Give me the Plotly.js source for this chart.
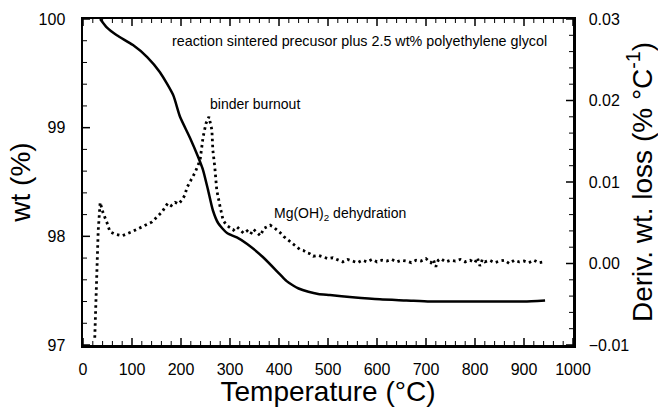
<!DOCTYPE html>
<html>
<head>
<meta charset="utf-8">
<script src="https://cdn.plot.ly/plotly-3.0.1.min.js"></script>
<style>
html,body{margin:0;padding:0;background:#fff;}
#chart{width:658px;height:407px;}
</style>
</head>
<body>
<div id="chart"></div>
<script>
// TGA weight (%) vs temperature (solid line, left axis)
var tgaTemp = [35, 49, 69, 102, 131, 157, 184, 198, 218, 235, 245, 255, 265, 276, 294, 314, 335, 367, 402, 415, 428, 440, 460, 480, 504, 550, 606, 660, 708, 760, 851, 900, 943];
var tgaWt   = [100.0, 99.92, 99.85, 99.76, 99.65, 99.51, 99.30, 99.10, 98.91, 98.73, 98.61, 98.43, 98.24, 98.12, 98.03, 97.99, 97.93, 97.81, 97.65, 97.59, 97.55, 97.52, 97.49, 97.47, 97.46, 97.44, 97.42, 97.41, 97.40, 97.40, 97.40, 97.40, 97.41];

// Derivative weight loss (% / °C) vs temperature (dotted line, right axis)
var dtgTemp = [24, 26, 28, 31, 35, 41, 49, 55, 65, 80, 100, 120, 141, 161, 173, 180, 188, 195, 202, 208, 212, 220, 229, 239, 245, 251, 257, 263, 265, 269, 273, 280, 286, 293, 300, 307, 314,
  320, 328, 335, 342, 348, 355, 362, 369, 376, 382, 388, 395, 402, 410, 416, 422, 430, 436, 443, 450, 457, 463, 470,
  480, 490, 500, 510, 520, 530, 540, 550, 560, 570, 580, 590, 600, 610, 620, 630, 640, 650, 660, 670, 680, 690, 700, 710, 715, 720, 725, 730, 740, 750, 760, 770, 780, 790, 800, 805, 810, 815, 820, 830, 840, 850, 860, 870, 880, 890, 900, 910, 920, 930, 940];
var dtgVal  = [-0.0091, -0.006, -0.002, 0.004, 0.0075, 0.0062, 0.0050, 0.0039, 0.0036, 0.0034, 0.0039, 0.0045, 0.0051, 0.0063, 0.0074, 0.0071, 0.0075, 0.0073, 0.0078, 0.0084, 0.0093, 0.0102, 0.0112, 0.0127, 0.0155, 0.0172, 0.0180, 0.0164, 0.0139, 0.0118, 0.0090, 0.0069, 0.0053, 0.0047, 0.0044, 0.0041, 0.0045,
  0.0041, 0.0037, 0.0040, 0.0036, 0.0042, 0.0038, 0.0034, 0.0043, 0.0045, 0.0047, 0.0045, 0.0042, 0.0038, 0.0033, 0.0030, 0.0027, 0.0024, 0.0020, 0.0017, 0.0016, 0.0013, 0.0012, 0.0009,
  0.0010, 0.0008, 0.0006, 0.0007, 0.0004, 0.0002, 0.0005, 0.0003, 0.0001, 0.0004, 0.0002, 0.0005, 0.0002, 0.0004, 0.0003, 0.0005, 0.0002, 0.0004, 0.0003, 0.0001, 0.0004, 0.0003, 0.0006, 0.0001, 0.0005, -0.0004, 0.0004, 0.0006, 0.0002, 0.0004, 0.0003, 0.0005, 0.0002, 0.0004, 0.0001, 0.0007, -0.0003, 0.0005, 0.0002, 0.0004, 0.0001, 0.0003, 0.0004, 0.0000, 0.0004, 0.0002, 0.0003, 0.0001, 0.0004, 0.0001, 0.0002];

var xTitle = 'Temperature (°C)';
var yTitle = 'wt (%)';
var y2Title = 'Deriv. wt. loss (% °C<sup>-1</sup>)';
var noteTitle = 'reaction sintered precusor plus 2.5 wt% polyethylene glycol';
var noteBinder = 'binder burnout';
var noteMg = 'Mg(OH)<sub>2</sub> dehydration';

var FONT = 'Liberation Sans, Arial, Helvetica, sans-serif';

// axis ranges and tick steps
var xRange = [0, 1000], xMajor = 100, xMinor = 20;
var yRange = [97, 100], yMajor = 1, yMinor = 0.2;
var y2Range = [-0.01, 0.03], y2Major = 0.01, y2Minor = 0.002;

var W = 658, H = 407, M = {l: 83, r: 85, t: 19, b: 62};
var plotW = W - M.l - M.r, plotH = H - M.t - M.b;
var MAJ = 7, MIN = 4;

function tickVals(range, step) {
  var out = [], n = Math.round((range[1] - range[0]) / step);
  for (var i = 0; i <= n; i++) out.push(range[0] + i * step);
  return out;
}
function isMajor(v, range, major) {
  var r = (v - range[0]) / major;
  return Math.abs(r - Math.round(r)) < 1e-6;
}

// inward tick marks on all four sides, placed through the axes' own scales
var shapes = [];
tickVals(xRange, xMinor).forEach(function(v) {
  var len = isMajor(v, xRange, xMajor) ? MAJ : MIN, w = len === MAJ ? 1.5 : 1;
  shapes.push({type: 'line', xref: 'x', yref: 'paper', x0: v, x1: v, y0: 0, y1: len / plotH, line: {color: '#000', width: w}});
  shapes.push({type: 'line', xref: 'x', yref: 'paper', x0: v, x1: v, y0: 1, y1: 1 - len / plotH, line: {color: '#000', width: w}});
});
tickVals(yRange, yMinor).forEach(function(v) {
  var len = isMajor(v, yRange, yMajor) ? MAJ : MIN, w = len === MAJ ? 1.5 : 1;
  shapes.push({type: 'line', xref: 'paper', yref: 'y', x0: 0, x1: len / plotW, y0: v, y1: v, line: {color: '#000', width: w}});
});
tickVals(y2Range, y2Minor).forEach(function(v) {
  var len = isMajor(v, y2Range, y2Major) ? MAJ : MIN, w = len === MAJ ? 1.5 : 1;
  shapes.push({type: 'line', xref: 'paper', yref: 'y2', x0: 1, x1: 1 - len / plotW, y0: v, y1: v, line: {color: '#000', width: w}});
});

var traces = [
  {x: tgaTemp, y: tgaWt, type: 'scatter', mode: 'lines', yaxis: 'y',
   line: {color: '#000', width: 2.5, shape: 'spline', smoothing: 0.6}},
  {x: dtgTemp, y: dtgVal, type: 'scatter', mode: 'lines', yaxis: 'y2',
   line: {color: '#000', width: 2.8, dash: '2.5px,3.5px'}}
];

function axis(extra) {
  var a = {
    showgrid: false, zeroline: false, showline: true, linecolor: '#000', linewidth: 2.5,
    ticks: '', tickfont: {family: FONT, size: 16, color: '#000'}
  };
  return Object.assign(a, extra);
}

var layout = {
  width: W, height: H,
  margin: M,
  plot_bgcolor: 'rgba(0,0,0,0)',
  showlegend: false,
  xaxis: axis({
    range: xRange, dtick: xMajor, mirror: true, ticklabelstandoff: 8,
    title: {text: xTitle, font: {family: FONT, size: 28, color: '#000'}, standoff: 10}
  }),
  yaxis: axis({
    range: yRange, dtick: yMajor, ticklabelstandoff: 12,
    title: {text: yTitle, font: {family: FONT, size: 28, color: '#000'}, standoff: 0}
  }),
  yaxis2: axis({
    overlaying: 'y', side: 'right',
    range: y2Range, dtick: y2Major, tickformat: '.2f', ticklabelstandoff: 10,
    title: {text: y2Title, font: {family: FONT, size: 28, color: '#000'}, standoff: 8}
  }),
  shapes: shapes,
  annotations: [
    {text: noteTitle, x: 564, y: 99.80, xref: 'x', yref: 'y', showarrow: false,
     xanchor: 'center', yanchor: 'middle', font: {family: FONT, size: 14.3, color: '#000'}},
    {text: noteBinder, x: 255, y: 99.22, xref: 'x', yref: 'y', showarrow: false,
     xanchor: 'left', yanchor: 'middle', font: {family: FONT, size: 14, color: '#000'}},
    {text: noteMg, x: 385, y: 98.21, xref: 'x', yref: 'y', showarrow: false,
     xanchor: 'left', yanchor: 'middle', font: {family: FONT, size: 14, color: '#000'}}
  ]
};

Plotly.newPlot('chart', traces, layout, {staticPlot: true});
</script>
</body>
</html>
